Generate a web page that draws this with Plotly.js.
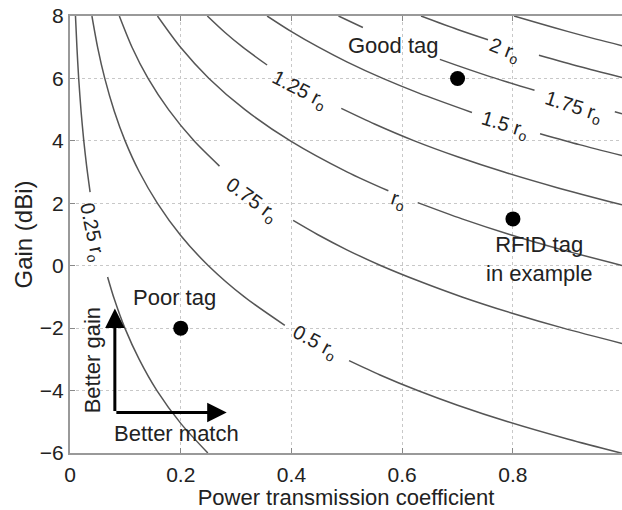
<!DOCTYPE html>
<html>
<head>
<meta charset="utf-8">
<script src="https://cdn.plot.ly/plotly-3.0.1.min.js"></script>
<style>html,body{margin:0;padding:0;background:#fff;}#chart{width:622px;height:510px;}</style>
</head>
<body>
<div id="chart"></div>
<script>
// Contour curves of read range (multiples of r_o).
// x = power transmission coefficient, y = gain (dBi); null = gap for inline label
const c025_x = [0.0099, 0.0125, 0.0157, 0.020, 0.0249, 0.030, 0.0363, null, 0.0679, 0.080, 0.0991, 0.125, 0.157, 0.20, 0.249];
const c025_y = [8, 7, 6, 4.95, 4, 3.2, 2.36, null, -0.36, -1.07, -2, -3, -4, -5.05, -6];
const c050_x = [0.0396, 0.05, 0.0628, 0.08, 0.0995, 0.125, 0.158, 0.2, 0.25, 0.315, 0.388, null, 0.504, 0.56, 0.628, 0.7, 0.791, 0.9, 0.997];
const c050_y = [8, 6.99, 6, 4.95, 4, 3.01, 2, 0.97, 0, -1, -1.91, null, -3.04, -3.5, -4, -4.47, -5, -5.56, -6.01];
const c075_x = [0.0891, 0.112, 0.141, 0.178, 0.224, 0.270, null, 0.403, 0.447, 0.5, 0.562, 0.63, 0.708, 0.8, 0.891, 0.997];
const c075_y = [8, 7, 6, 5, 4, 3.19, null, 1.45, 1, 0.51, 0, -0.49, -1, -1.53, -2, -2.49];
const c100_x = [0.158, 0.2, 0.251, 0.316, 0.398, 0.501, 0.575, null, 0.628, 0.708, 0.794, 0.891, 0.997];
const c100_y = [8, 6.99, 6, 5, 4, 3, 2.4, null, 2.02, 1.5, 1, 0.5, 0.01];
const c125_x = [0.248, 0.28, 0.312, 0.356, null, 0.49, 0.55, 0.622, 0.7, 0.784, 0.88, 0.997];
const c125_y = [8, 7.47, 7, 6.43, null, 5.04, 4.54, 4, 3.49, 3, 2.5, 1.95];
const c150_x = [0.356, 0.4, 0.449, 0.5, 0.565, 0.63, 0.726, null, 0.849, 0.92, 0.997];
const c150_y = [8, 7.5, 7, 6.53, 6, 5.53, 4.91, null, 4.23, 3.88, 3.53];
const c175_x = [0.485, 0.529, null, 0.668, 0.7, 0.76, 0.839, null, 0.984, 0.997];
const c175_y = [8, 7.63, null, 6.61, 6.41, 6.05, 5.62, null, 4.93, 4.87];
const c200_x = [0.634, 0.7, 0.755, null, 0.847, 0.92, 0.997];
const c200_y = [8, 7.57, 7.24, null, 6.74, 6.38, 6.03];
const c225_x = [0.802, 0.85, 0.9, 0.95, 0.997];
const c225_y = [8, 7.75, 7.5, 7.26, 7.05];

// Contour labels
const labelText  = ['0.25 r<sub>o</sub>', '0.5 r<sub>o</sub>', '0.75 r<sub>o</sub>', 'r<sub>o</sub>', '1.25 r<sub>o</sub>', '1.5 r<sub>o</sub>', '1.75 r<sub>o</sub>', '2 r<sub>o</sub>'];
const labelX     = [0.039, 0.442, 0.328, 0.593, 0.415, 0.785, 0.91, 0.785];
const labelY     = [1.07, -2.46, 2.09, 2.09, 5.62, 4.5, 5.07, 6.9];
const labelAngle = [78, 28, 36, 18, 27, 17, 18, 21];

// Tag points
const tagNames = ['Good tag', 'RFID tag in example', 'Poor tag'];
const tagX = [0.7, 0.8, 0.2];
const tagY = [6, 1.5, -2];

// Axis ticks
const xTicks = [0, 0.2, 0.4, 0.6, 0.8, 1];
const xTickText = ['0', '0.2', '0.4', '0.6', '0.8', '1'];
const yTicks = [-6, -4, -2, 0, 2, 4, 6, 8];

const FONT = 'Liberation Sans, Arial, Helvetica, sans-serif';
const lineStyle = {color: '#555', width: 1.5, shape: 'spline', smoothing: 0.8};

const curves = [[c025_x, c025_y], [c050_x, c050_y], [c075_x, c075_y], [c100_x, c100_y],
                [c125_x, c125_y], [c150_x, c150_y], [c175_x, c175_y], [c200_x, c200_y], [c225_x, c225_y]];
const traces = curves.map(c => ({
  x: c[0], y: c[1], type: 'scatter', mode: 'lines', connectgaps: false,
  line: lineStyle, hoverinfo: 'skip', showlegend: false
}));
traces.push({
  x: tagX, y: tagY, text: tagNames, type: 'scatter', mode: 'markers',
  marker: {color: '#000', size: 15}, showlegend: false
});

const annotations = [];
labelText.forEach((t, i) => annotations.push({
  x: labelX[i], y: labelY[i], xref: 'x', yref: 'y', text: t, showarrow: false,
  textangle: labelAngle[i], font: {family: FONT, size: 20, color: '#222'}
}));
const txt = (t, x, y, ang) => ({x: x, y: y, xref: 'x', yref: 'y', text: t, showarrow: false,
  textangle: ang || 0, font: {family: FONT, size: 22, color: '#222'}});
annotations.push(txt('Good tag', 0.585, 7.06));
annotations.push(txt('RFID tag<br>in example', 0.847, 0.23));
annotations.push(txt('Poor tag', 0.188, -1.02));
annotations.push(txt('Better gain', 0.041, -3.04, -90));
annotations.push(txt('Better match', 0.193, -5.37));
annotations.push({x: 0.081, y: -1.37, ax: 0.081, ay: -4.70, xref: 'x', yref: 'y', axref: 'x', ayref: 'y',
  text: '', showarrow: true, arrowhead: 2, arrowsize: 1.3, arrowwidth: 3, arrowcolor: '#000'});
annotations.push({x: 0.283, y: -4.70, ax: 0.081, ay: -4.70, xref: 'x', yref: 'y', axref: 'x', ayref: 'y',
  text: '', showarrow: true, arrowhead: 2, arrowsize: 1.3, arrowwidth: 3, arrowcolor: '#000'});

const layout = {
  width: 622, height: 510,
  margin: {l: 70, r: 0, t: 16, b: 57, pad: 0},
  paper_bgcolor: '#fff', plot_bgcolor: '#fff',
  font: {family: FONT, size: 21, color: '#222'},
  showlegend: false,
  xaxis: {
    range: [0, 0.997], tickvals: xTicks, ticktext: xTickText,
    ticks: 'inside', ticklen: 5, tickcolor: '#888', tickwidth: 1,
    showline: true, linecolor: '#999', linewidth: 2, mirror: 'ticks',
    showgrid: true, gridcolor: '#c8c8c8', griddash: 'dot', gridwidth: 1,
    zeroline: false, ticklabelstandoff: 2,
    title: {text: 'Power transmission coefficient', font: {family: FONT, size: 22, color: '#222'}, standoff: 4}
  },
  yaxis: {
    range: [-6, 8], tickvals: yTicks,
    ticks: 'inside', ticklen: 5, tickcolor: '#888', tickwidth: 1,
    showline: true, linecolor: '#999', linewidth: 2, mirror: false,
    showgrid: true, gridcolor: '#c8c8c8', griddash: 'dot', gridwidth: 1,
    zeroline: false, ticklabelstandoff: 0,
    title: {text: 'Gain (dBi)', font: {family: FONT, size: 24, color: '#222'}, standoff: 0}
  },
  annotations: annotations
};

Plotly.newPlot('chart', traces, layout, {displayModeBar: false, staticPlot: true});
</script>
</body>
</html>
